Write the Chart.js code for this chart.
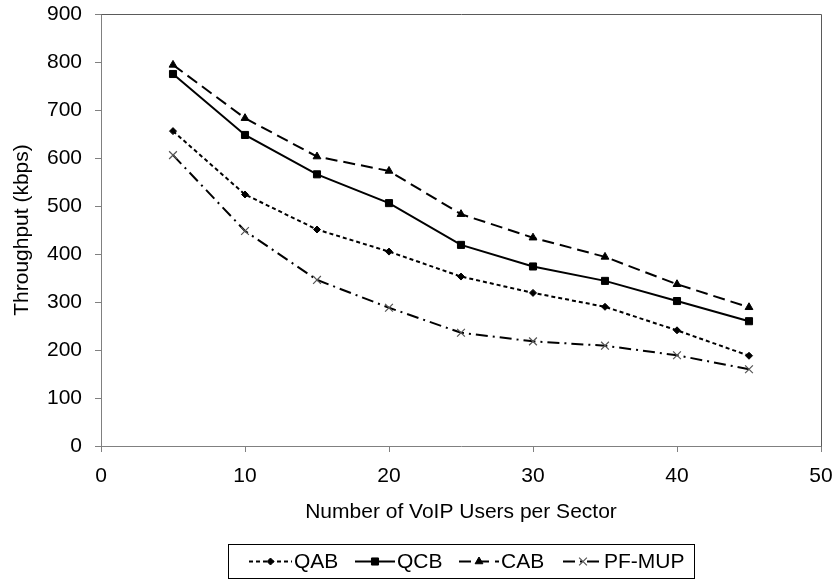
<!DOCTYPE html>
<html>
<head>
<meta charset="utf-8">
<script src="https://cdn.jsdelivr.net/npm/chart.js@4/dist/chart.umd.min.js"></script>
<style>
html,body{margin:0;padding:0;background:#fff;}
#wrap{width:838px;height:581px;}
</style>
</head>
<body>
<div id="wrap"><canvas id="c" width="838" height="581"></canvas></div>
<script>
const users = [5, 10, 15, 20, 25, 30, 35, 40, 45];
const qab = [656, 524, 451, 405, 353, 319, 290, 241, 188];
const qcb = [775, 648, 566, 506, 419, 374, 344, 302, 260];
const cab = [794, 683, 603, 573, 483, 434, 394, 337, 289];
const pfmup = [606, 448, 346, 288, 236, 218, 209, 189, 160];
const seriesNames = ['QAB', 'QCB', 'CAB', 'PF-MUP'];
const xTicks = [0, 10, 20, 30, 40, 50];
const yTicks = [0, 100, 200, 300, 400, 500, 600, 700, 800, 900];

const FONT = '"Liberation Sans", Arial, sans-serif';
const FS = 21;
const pts = arr => users.map((u, i) => ({x: u, y: arr[i]}));

const styles = [
  {dash: [4, 3], point: 'rectRot', r: 3.5, pcolor: '#000', pw: 1},
  {dash: [], point: 'rect', r: 5, pcolor: '#000', pw: 1},
  {dash: [12, 6], point: 'triangle', r: 4.5, pcolor: '#000', pw: 1},
  {dash: [12, 5, 2, 5], point: 'crossRot', r: 5.5, pcolor: '#555', pw: 1.2}
];
const dataArrays = [qab, qcb, cab, pfmup];

const datasets = dataArrays.map((arr, i) => ({
  label: seriesNames[i],
  data: pts(arr),
  borderColor: '#000',
  backgroundColor: '#000',
  borderWidth: 2,
  borderDash: styles[i].dash,
  pointStyle: styles[i].point,
  pointRadius: styles[i].r,
  pointBorderColor: styles[i].pcolor,
  pointBackgroundColor: '#000',
  pointBorderWidth: styles[i].pw,
  tension: 0,
  fill: false
}));

function drawMarker(ctx, style, x, y, r) {
  ctx.save();
  ctx.setLineDash([]);
  ctx.beginPath();
  if (style === 'rect') {
    const s = Math.SQRT1_2 * r;
    ctx.rect(x - s, y - s, 2 * s, 2 * s);
    ctx.fill(); ctx.stroke();
  } else if (style === 'rectRot') {
    ctx.moveTo(x - r, y); ctx.lineTo(x, y - r); ctx.lineTo(x + r, y); ctx.lineTo(x, y + r); ctx.closePath();
    ctx.fill(); ctx.stroke();
  } else if (style === 'triangle') {
    for (let k = 0; k < 3; k++) {
      const a = k * 2 * Math.PI / 3;
      const px = x + Math.sin(a) * r, py = y - Math.cos(a) * r;
      if (k === 0) ctx.moveTo(px, py); else ctx.lineTo(px, py);
    }
    ctx.closePath(); ctx.fill(); ctx.stroke();
  } else if (style === 'crossRot') {
    const o = Math.SQRT1_2 * r;
    ctx.moveTo(x - o, y - o); ctx.lineTo(x + o, y + o);
    ctx.moveTo(x + o, y - o); ctx.lineTo(x - o, y + o);
    ctx.stroke();
  }
  ctx.restore();
}

const framePlugin = {
  id: 'frameAndLegend',
  afterDraw(chart) {
    const ctx = chart.ctx;
    const a = chart.chartArea;
    ctx.save();
    ctx.strokeStyle = '#5a5a5a';
    ctx.lineWidth = 1;
    ctx.beginPath();
    ctx.moveTo(Math.round(a.left) + 0.5, Math.round(a.top) + 0.5);
    ctx.lineTo(Math.round(a.right) + 0.5, Math.round(a.top) + 0.5);
    ctx.lineTo(Math.round(a.right) + 0.5, Math.round(a.bottom) + 0.5);
    ctx.stroke();

    ctx.strokeStyle = '#000';
    ctx.strokeRect(228.5, 544.5, 466, 34);
    const ly = 561.5;
    const samples = [[249, 292, 294], [355, 395, 397], [459, 499, 501], [563, 603, 604]];
    ctx.font = FS + 'px ' + FONT;
    ctx.textBaseline = 'middle';
    ctx.textAlign = 'left';
    datasets.forEach((ds, i) => {
      const [x1, x2, tx] = samples[i];
      ctx.save();
      ctx.strokeStyle = '#000';
      ctx.lineWidth = 2;
      ctx.setLineDash(ds.borderDash);
      ctx.beginPath();
      ctx.moveTo(x1, ly); ctx.lineTo(x2, ly);
      ctx.stroke();
      ctx.restore();
      ctx.save();
      ctx.fillStyle = '#000';
      ctx.strokeStyle = styles[i].pcolor;
      ctx.lineWidth = styles[i].pw;
      drawMarker(ctx, styles[i].point, (x1 + x2) / 2, ly, styles[i].r);
      ctx.restore();
      ctx.fillStyle = '#000';
      ctx.fillText(ds.label, tx, ly + 1);
    });
    ctx.restore();
  }
};

new Chart(document.getElementById('c'), {
  type: 'line',
  data: {datasets},
  options: {
    responsive: false,
    animation: false,
    layout: {padding: {left: 0, right: 17, top: 14, bottom: 0}},
    plugins: {legend: {display: false}, tooltip: {enabled: false}},
    scales: {
      x: {
        type: 'linear',
        min: 0, max: 50,
        afterBuildTicks: s => { s.ticks = xTicks.map(v => ({value: v})); },
        afterFit: s => { s.height = 135; s.paddingLeft = 0; s.paddingRight = 0; },
        ticks: {color: '#000', font: {family: FONT, size: FS}, padding: 12, maxRotation: 0},
        grid: {drawOnChartArea: false, drawTicks: true, tickLength: 6, color: '#808080', tickColor: '#808080'},
        border: {color: '#808080', width: 1},
        title: {display: true, text: 'Number of VoIP Users per Sector', color: '#000',
                font: {family: FONT, size: FS}, padding: {top: 0, bottom: 56}}
      },
      y: {
        type: 'linear',
        min: 0, max: 900,
        afterBuildTicks: s => { s.ticks = yTicks.map(v => ({value: v})); },
        afterFit: s => { s.width = 101; s.paddingTop = 0; s.paddingBottom = 0; },
        ticks: {color: '#000', font: {family: FONT, size: FS}, padding: 13},
        grid: {drawOnChartArea: false, drawTicks: true, tickLength: 6, color: '#808080', tickColor: '#808080'},
        border: {color: '#808080', width: 1},
        title: {display: true, text: 'Throughput (kbps)', color: '#000',
                font: {family: FONT, size: FS}, padding: {top: 10, bottom: 0}}
      }
    }
  },
  plugins: [framePlugin]
});
</script>
</body>
</html>
